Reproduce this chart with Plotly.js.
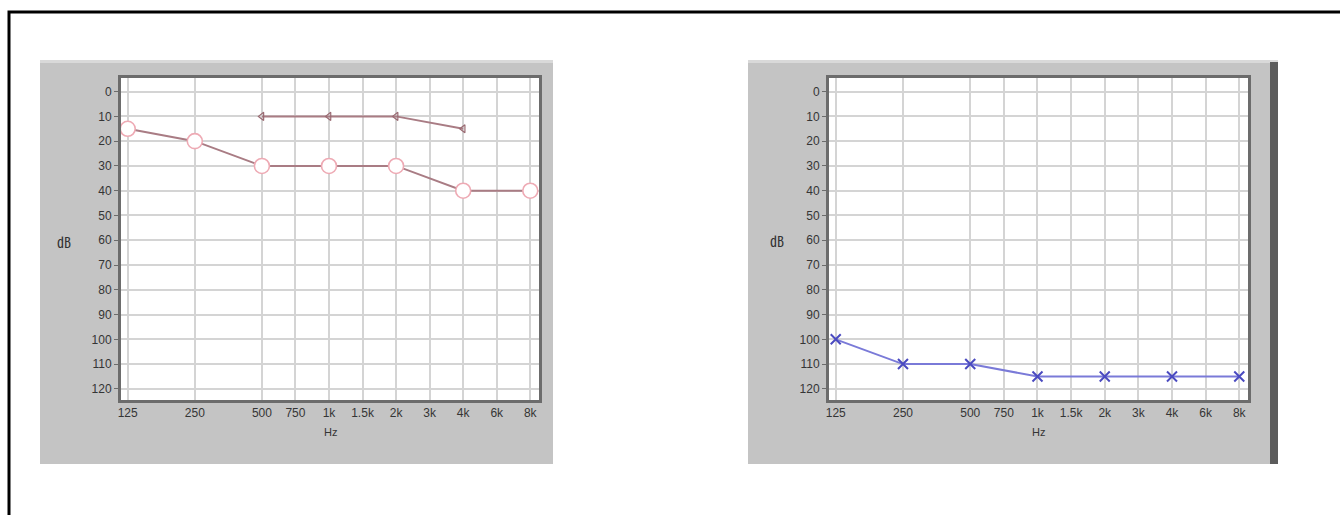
<!DOCTYPE html>
<html>
<head>
<meta charset="utf-8">
<script src="https://cdn.plot.ly/plotly-3.0.1.min.js"></script>
<style>
  html, body { margin: 0; padding: 0; background: #ffffff; }
  #chart { width: 1340px; height: 515px; }
</style>
</head>
<body>
<div id="chart"></div>
<script>
// Frequency tick labels and their audiogram positions (half-octave spacing)
const freqLabels = ['125', '250', '500', '750', '1k', '1.5k', '2k', '3k', '4k', '6k', '8k'];
const freqPos = [0, 1, 2, 2.5, 3, 3.5, 4, 4.5, 5, 5.5, 6];
const dbTicks = [0, 10, 20, 30, 40, 50, 60, 70, 80, 90, 100, 110, 120];

// Left panel: air conduction (circles)
const airFreqsA = ['125', '250', '500', '1k', '2k', '4k', '8k'];
const airDbA = [15, 20, 30, 30, 30, 40, 40];
// Left panel: bone conduction (<)
const boneFreqsA = ['500', '1k', '2k', '4k'];
const boneDbA = [10, 10, 10, 15];
// Right panel: air conduction (x)
const airFreqsB = ['125', '250', '500', '1k', '2k', '4k', '8k'];
const airDbB = [100, 110, 110, 115, 115, 115, 115];

const pos = f => freqPos[freqLabels.indexOf(f)];

const W = 1340, H = 515;
const px = v => v / W;
const py = v => 1 - v / H;

const PLOT_TOP = 78, PLOT_BOTTOM = 400;
const P1 = [121, 539], P2 = [829, 1248];

const traces = [
  {
    x: airFreqsA.map(pos), y: airDbA, xaxis: 'x', yaxis: 'y',
    mode: 'lines+markers', type: 'scatter',
    line: { color: '#a97c84', width: 2 },
    marker: { symbol: 'circle', size: 15, color: '#ffffff', line: { width: 1.6, color: '#eeaab4' } },
    hoverinfo: 'skip'
  },
  {
    x: boneFreqsA.map(pos), y: boneDbA, xaxis: 'x', yaxis: 'y',
    mode: 'lines+markers', type: 'scatter',
    line: { color: '#a97c84', width: 2 },
    marker: { symbol: 'triangle-left-open', size: 7, color: '#9a6a72', line: { width: 1.2, color: '#9a6a72' } },
    hoverinfo: 'skip'
  },
  {
    x: airFreqsB.map(pos), y: airDbB, xaxis: 'x2', yaxis: 'y2',
    mode: 'lines+markers', type: 'scatter',
    line: { color: '#7a7ad8', width: 2 },
    marker: { symbol: 'x-thin-open', size: 10, color: '#4a4ac0', line: { width: 2, color: '#4a4ac0' } },
    hoverinfo: 'skip'
  }
];

const tickFont = { family: 'Liberation Sans, Arial, sans-serif', size: 12, color: '#353535' };

function xAxis(domain, anchor) {
  return {
    domain: domain, anchor: anchor,
    range: [-0.1, 6.13],
    tickmode: 'array', tickvals: freqPos, ticktext: freqLabels,
    showgrid: true, gridcolor: '#d4d4d4', gridwidth: 2,
    zeroline: false,
    showline: true, mirror: true, linecolor: '#6c6c6c', linewidth: 3,
    ticks: '', tickfont: tickFont,
    fixedrange: true
  };
}
function yAxis(anchor) {
  return {
    domain: [py(PLOT_BOTTOM), py(PLOT_TOP)],
    anchor: anchor,
    range: [124.5, -5.5],
    tickmode: 'array', tickvals: dbTicks, ticktext: dbTicks.map(String),
    showgrid: true, gridcolor: '#d4d4d4', gridwidth: 2,
    zeroline: false,
    showline: true, mirror: true, linecolor: '#6c6c6c', linewidth: 3,
    ticks: 'outside', ticklen: 4, tickcolor: '#6c6c6c', tickwidth: 1,
    tickfont: tickFont,
    fixedrange: true
  };
}

function panel(x0, x1, darkRight) {
  const s = [
    { type: 'rect', xref: 'paper', yref: 'paper', x0: px(x0), x1: px(x1), y0: py(464), y1: py(60),
      line: { width: 0 }, fillcolor: '#c4c4c4', layer: 'below' },
    { type: 'rect', xref: 'paper', yref: 'paper', x0: px(x0), x1: px(x1), y0: py(63), y1: py(60),
      line: { width: 0 }, fillcolor: '#d9d9d9', layer: 'below' }
  ];
  if (darkRight) {
    s.push({ type: 'rect', xref: 'paper', yref: 'paper', x0: px(x1 - 8), x1: px(x1), y0: py(464), y1: py(62),
      line: { width: 0 }, fillcolor: '#5c5c5c', layer: 'below' });
  }
  return s;
}
function plotBg(p) {
  return { type: 'rect', xref: 'paper', yref: 'paper', x0: px(p[0]), x1: px(p[1]),
    y0: py(PLOT_BOTTOM), y1: py(PLOT_TOP), line: { width: 0 }, fillcolor: '#ffffff', layer: 'below' };
}

const layout = {
  width: W, height: H,
  margin: { l: 0, r: 0, t: 0, b: 0 },
  paper_bgcolor: '#ffffff',
  plot_bgcolor: '#ffffff',
  showlegend: false,
  xaxis: xAxis([px(P1[0]), px(P1[1])], 'y'),
  yaxis: yAxis('x'),
  xaxis2: xAxis([px(P2[0]), px(P2[1])], 'y2'),
  yaxis2: yAxis('x2'),
  shapes: [
    { type: 'rect', xref: 'paper', yref: 'paper', x0: px(9), x1: px(1360), y0: py(12), y1: py(560),
      line: { color: '#000000', width: 3 }, fillcolor: 'rgba(0,0,0,0)', layer: 'below' }
  ].concat(panel(40, 553, false), panel(748, 1278, true), [plotBg(P1), plotBg(P2)]),
  annotations: [
    { text: '㏈', xref: 'paper', yref: 'paper', x: px(64), y: py(241), showarrow: false,
      xanchor: 'center', yanchor: 'middle',
      font: { family: 'Noto Sans CJK KR, sans-serif', size: 14, color: '#333333' } },
    { text: '㏈', xref: 'paper', yref: 'paper', x: px(777), y: py(240), showarrow: false,
      xanchor: 'center', yanchor: 'middle',
      font: { family: 'Noto Sans CJK KR, sans-serif', size: 14, color: '#333333' } },
    { text: 'Hz', xref: 'paper', yref: 'paper', x: px(330), y: py(432), showarrow: false,
      xanchor: 'center', yanchor: 'middle',
      font: { family: 'Liberation Sans, Arial, sans-serif', size: 11, color: '#353535' } },
    { text: 'Hz', xref: 'paper', yref: 'paper', x: px(1038), y: py(432), showarrow: false,
      xanchor: 'center', yanchor: 'middle',
      font: { family: 'Liberation Sans, Arial, sans-serif', size: 11, color: '#353535' } }
  ]
};

Plotly.newPlot('chart', traces, layout, { displayModeBar: false, staticPlot: true });
</script>
</body>
</html>
